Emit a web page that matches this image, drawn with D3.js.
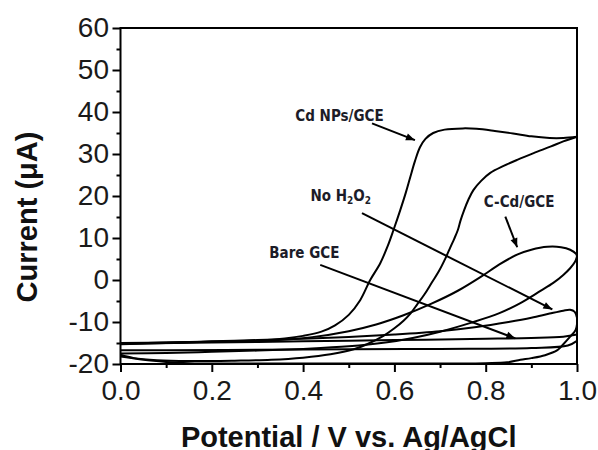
<!DOCTYPE html>
<html>
<head>
<meta charset="utf-8">
<script src="https://cdn.jsdelivr.net/npm/d3@7"></script>
<style>
  body { margin: 0; background: #fff; }
  svg { display: block; }
  .tick text { font-family: "Liberation Sans", Arial, sans-serif; font-size: 28px; fill: #1a1a1a; }
  .tick line { stroke: #000; stroke-width: 2; }
  .note { font-family: "Liberation Sans Narrow", "DejaVu Sans Condensed", sans-serif; font-weight: bold; font-size: 15px; fill: #1c1c28; }
  .title { font-family: "Liberation Sans", Arial, sans-serif; font-weight: bold; font-size: 29px; fill: #111; }
</style>
</head>
<body>
<svg id="chart" width="598" height="450"></svg>
<script>
// CV curves: [potential (V), current (uA)]
const xTicks = [0, 0.2, 0.4, 0.6, 0.8, 1.0];
const xMinor = [0.1, 0.3, 0.5, 0.7, 0.9];
const yTicks = [-20, -10, 0, 10, 20, 30, 40, 50, 60];
const yMinor = [-15, -5, 5, 15, 25, 35, 45, 55];

const cdNpsFwd = [[0,-15.3],[0.1,-15.0],[0.2,-14.7],[0.3,-14.4],[0.36,-13.9],[0.40,-13.3],[0.44,-12.3],[0.47,-10.8],
  [0.50,-8.3],[0.525,-4.8],[0.547,0],[0.569,4.0],[0.585,8.0],[0.598,11.9],[0.613,16.7],[0.625,20.8],[0.635,24.6],
  [0.645,28.3],[0.656,31.6],[0.668,33.6],[0.685,35.0],[0.71,35.8],[0.75,36.1],[0.78,36.0],[0.82,35.5],[0.86,34.9],
  [0.9,34.2],[0.94,33.8],[0.97,33.8],[1.0,34.1]];
const cdNpsRev = [[1.0,34.1],[0.97,33.0],[0.943,31.8],[0.905,30.2],[0.869,28.6],[0.838,27.1],[0.81,25.5],[0.79,23.6],
  [0.773,21.4],[0.762,19.1],[0.753,16.7],[0.745,14.2],[0.739,11.9],[0.731,9.8],[0.723,7.9],[0.712,5.2],[0.697,2.0],
  [0.682,-0.6],[0.666,-3.4],[0.650,-5.8],[0.635,-8.0],[0.62,-9.7],[0.6,-11.5],[0.576,-13.3],[0.54,-15.3],[0.511,-16.5],
  [0.46,-17.7],[0.40,-18.5],[0.33,-19.0],[0.25,-19.2],[0.15,-19.3],[0.08,-19.1],[0.03,-18.6],[0,-17.8]];

const noH2o2Fwd = [[0,-15.1],[0.1,-14.9],[0.2,-14.6],[0.3,-14.3],[0.4,-14.0],[0.5,-13.6],[0.6,-13.0],[0.7,-12.2],
  [0.78,-11.2],[0.85,-10.0],[0.9,-9.0],[0.94,-8.0],[0.97,-7.3],[0.985,-7.1],[0.995,-7.6],[1.0,-9.0]];
const noH2o2Rev = [[1.0,-10.5],[0.997,-11.9],[0.985,-13.5],[0.97,-15.3],[0.957,-16.7],[0.93,-17.9],[0.9,-18.6],
  [0.876,-19.0],[0.847,-19.6],[0.8,-19.8],[0.6,-19.9],[0.4,-19.9],[0.25,-19.9],[0.15,-19.8],[0.1,-19.5],
  [0.05,-19.0],[0.02,-18.5],[0,-18.2]];

const ccdFwd = [[0,-15.0],[0.1,-14.9],[0.2,-14.7],[0.33,-14.4],[0.42,-13.6],[0.5,-12.2],[0.56,-10.6],[0.62,-8.4],
  [0.68,-5.7],[0.74,-2.5],[0.79,0.8],[0.83,3.7],[0.87,6.1],[0.9,7.2],[0.935,7.9],[0.965,7.8],[0.985,7.2],
  [0.998,6.2],[1.0,5.6]];
const ccdRev = [[1.0,5.6],[0.995,4.2],[0.985,2.8],[0.97,1.2],[0.948,-0.7],[0.92,-2.6],[0.876,-5.5],[0.83,-7.9],
  [0.767,-10.2],[0.70,-12.3],[0.64,-13.8],[0.58,-14.9],[0.5,-15.8],[0.4,-16.4],[0.3,-16.8],[0.2,-17.1],
  [0.1,-17.4],[0,-17.5]];

const bareFwd = [[0,-15.2],[0.2,-14.9],[0.4,-14.6],[0.6,-14.3],[0.8,-14.0],[0.9,-13.8],[0.97,-13.5],[1.0,-13.0]];
const bareRev = [[1.0,-14.5],[0.98,-15.6],[0.9,-16.2],[0.7,-16.4],[0.5,-16.5],[0.3,-16.6],[0.1,-16.7],[0,-16.7]];

const curves = [cdNpsFwd, cdNpsRev, noH2o2Fwd, noH2o2Rev, ccdFwd, ccdRev, bareFwd, bareRev];

// annotations: label anchor and arrow from/to, in data units
const noteLabels = ['Cd NPs/GCE', 'No H2O2', 'C-Cd/GCE', 'Bare GCE'];
const notePos   = [[0.383, 37.9], [0.416, 18.8], [0.796, 17.4], [0.326, 5.2]];
const arrowFrom = [[0.551, 37.3], [0.529, 15.9], [0.843, 15.1], [0.4375, 3.6]];
const arrowTo   = [[0.645, 33.3], [0.946, -7.0], [0.869, 7.8], [0.865, -13.9]];

const W = 598, H = 450, M = { t: 28, r: 21, b: 86, l: 120.5 };
const svg = d3.select('#chart');

const x = d3.scaleLinear().domain([0, 1]).range([M.l, W - M.r]);
const y = d3.scaleLinear().domain([-20, 60]).range([H - M.b, M.t]);

// minor ticks first, then major with labels
svg.append('g').attr('transform', `translate(0,${y(-20)})`)
  .call(d3.axisBottom(x).tickValues(xMinor).tickSize(4).tickFormat(''))
  .call(g => g.select('.domain').remove());
svg.append('g').attr('transform', `translate(${x(0)},0)`)
  .call(d3.axisLeft(y).tickValues(yMinor).tickSize(4).tickFormat(''))
  .call(g => g.select('.domain').remove());

svg.append('g').attr('transform', `translate(0,${y(-20)})`)
  .call(d3.axisBottom(x).tickValues(xTicks).tickSize(8).tickPadding(8).tickFormat(d => d.toFixed(1)))
  .call(g => g.select('.domain').remove());
svg.append('g').attr('transform', `translate(${x(0)},0)`)
  .call(d3.axisLeft(y).tickValues(yTicks).tickSize(8).tickPadding(3.5).tickFormat(d => String(d)))
  .call(g => g.select('.domain').remove());

// frame
svg.append('rect')
  .attr('x', x(0)).attr('y', y(60))
  .attr('width', x(1) - x(0)).attr('height', y(-20) - y(60))
  .attr('fill', 'none').attr('stroke', '#000').attr('stroke-width', 2);

// curves
const line = d3.line().x(d => x(d[0])).y(d => y(d[1])).curve(d3.curveCatmullRom.alpha(0.5));
svg.append('g').selectAll('path').data(curves).join('path')
  .attr('d', line)
  .attr('fill', 'none').attr('stroke', '#000').attr('stroke-width', 2)
  .attr('stroke-linejoin', 'round');

// arrows
svg.append('defs').append('marker')
  .attr('id', 'head').attr('viewBox', '0 0 10 10')
  .attr('refX', 10).attr('refY', 5)
  .attr('markerWidth', 11).attr('markerHeight', 9)
  .attr('markerUnits', 'userSpaceOnUse').attr('orient', 'auto')
  .append('path').attr('d', 'M0,1 L10,5 L0,9 Z').attr('fill', '#000');

svg.append('g').selectAll('line').data(arrowFrom).join('line')
  .attr('x1', d => x(d[0])).attr('y1', d => y(d[1]))
  .attr('x2', (d, i) => x(arrowTo[i][0])).attr('y2', (d, i) => y(arrowTo[i][1]))
  .attr('stroke', '#000').attr('stroke-width', 2)
  .attr('marker-end', 'url(#head)');

// labels (subscripts for H2O2)
const notes = svg.append('g').selectAll('text').data(noteLabels).join('text')
  .attr('class', 'note')
  .attr('x', (d, i) => x(notePos[i][0])).attr('y', (d, i) => y(notePos[i][1]));
notes.each(function (d) {
  const t = d3.select(this);
  if (d === 'No H2O2') {
    t.append('tspan').text('No H');
    t.append('tspan').text('2').attr('font-size', 10).attr('dy', 3);
    t.append('tspan').text('O').attr('dy', -3);
    t.append('tspan').text('2').attr('font-size', 10).attr('dy', 3);
  } else {
    t.text(d);
  }
});

// axis titles
svg.append('text').attr('class', 'title')
  .attr('x', (x(0) + x(1)) / 2).attr('y', 447)
  .attr('text-anchor', 'middle')
  .text('Potential / V vs. Ag/AgCl');
svg.append('text').attr('class', 'title')
  .attr('transform', 'translate(37,217) rotate(-90)')
  .attr('text-anchor', 'middle')
  .text('Current (\u03bcA)');
</script>
</body>
</html>
